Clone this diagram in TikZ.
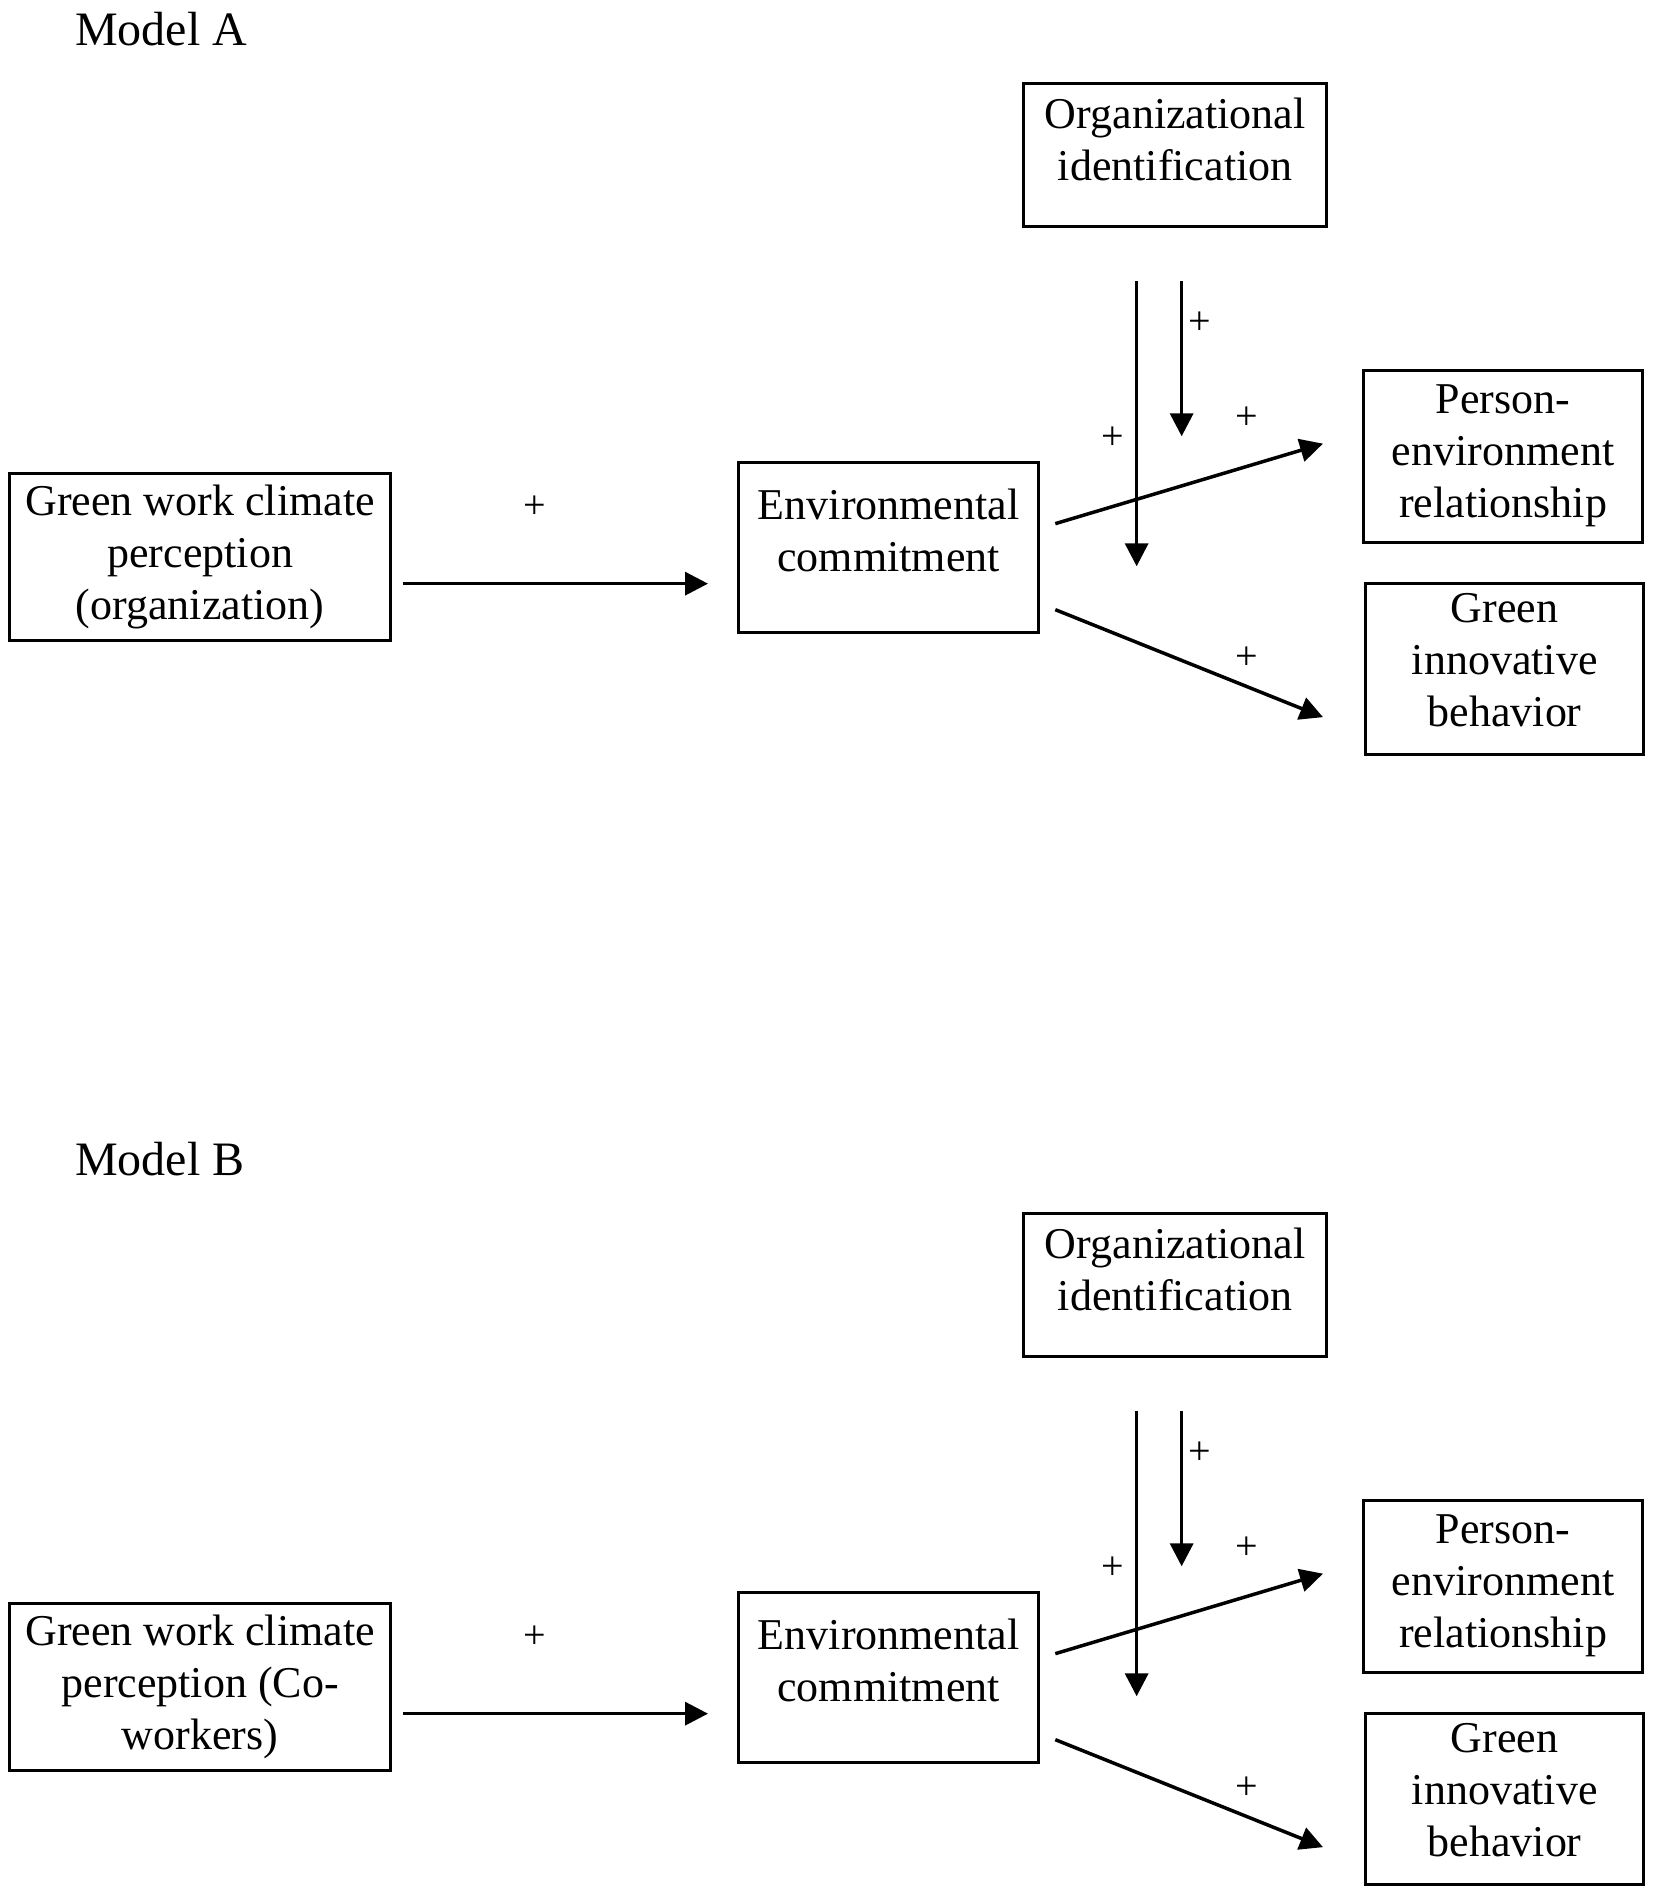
\documentclass[tikz,border=0pt]{standalone}
\usepackage{fontspec}
\setmainfont{Liberation Serif}
\usetikzlibrary{arrows.meta,calc}
\newcommand\bt[4]{\parbox[t][#1pt][t]{#2pt}{\fontsize{44}{52}\selectfont\centering\vspace*{#3pt}\strut #4\par}}
\tikzset{
  tb/.style={draw, line width=3.3pt, inner sep=0pt, anchor=north west},
  arr/.style={line width=3.5pt, -{Triangle[length=23pt,width=23pt]}},
  pl/.style={inner sep=0pt, font=\fontsize{40}{48}\selectfont},
  ttl/.style={inner sep=0pt, anchor=base west, font=\fontsize{48}{58}\selectfont}
}
\newcommand\drawmodel[4]{%
  \node[ttl] (t#1) at (75,45+#4) {#2};
  \node[tb] (org#1) at (1022,82+#4) {\bt{143}{303}{8}{Organizational\\identification}};
  \node[tb] (gwc#1) at (8,472+#4) {\bt{167}{381}{5}{#3}};
  \node[tb] (env#1) at (737,461+#4) {\bt{170}{300}{20}{Environmental\\commitment}};
  \node[tb] (per#1) at (1362,369+#4) {\bt{172}{279}{6}{Person-\\environment\\relationship}};
  \node[tb] (gib#1) at (1364,582+#4) {\bt{171}{278}{2}{Green\\innovative\\behavior}};
  \draw[arr] ($(gwc#1.east)+(11,26.5)$) -- ($(env#1.west)+(-29,36)$);
  \draw[arr] ($(env#1.east)+(15,-24)$) -- ($(per#1.west)+(-39,-13)$);
  \draw[arr] ($(env#1.east)+(15,62)$) -- ($(gib#1.west)+(-41,48)$);
  \draw[arr] ($(org#1.south)+(-38.5,53)$) -- ($(org#1.south)+(-38.5,338)$);
  \draw[arr] ($(org#1.south)+(6.5,53)$) -- ($(org#1.south)+(6.5,208)$);
  \node[pl] (pa#1) at (535,507+#4) {+};
  \node[pl] (pb#1) at (1113,438+#4) {+};
  \node[pl] (pc#1) at (1200,323+#4) {+};
  \node[pl] (pd#1) at (1247,418+#4) {+};
  \node[pl] (pe#1) at (1247,658+#4) {+};
}
\begin{document}
\begin{tikzpicture}[x=1pt,y=-1pt]
\useasboundingbox (0,0) rectangle (1653,1896);
\drawmodel{A}{Model A}{Green work climate\\perception\\(organization)}{0}
\drawmodel{B}{Model B}{Green work climate\\perception (Co-\\workers)}{1130}
\end{tikzpicture}
\end{document}
